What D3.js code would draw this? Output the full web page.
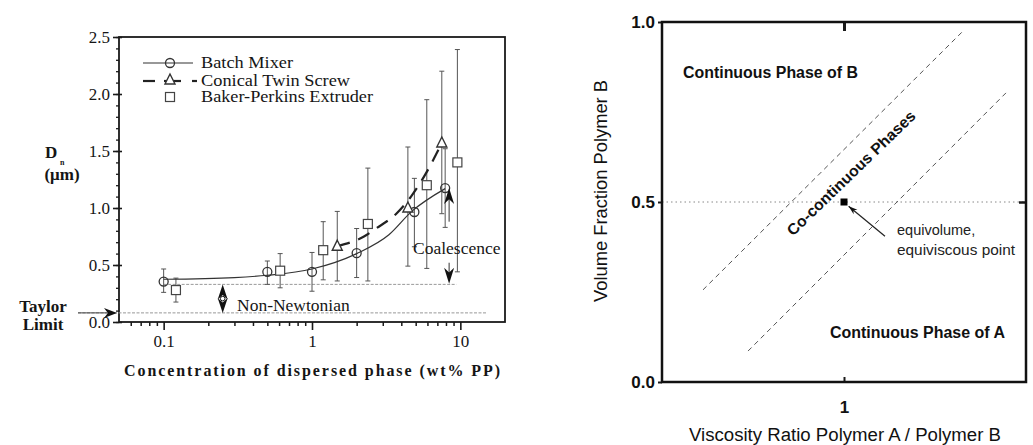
<!DOCTYPE html>
<html>
<head>
<meta charset="utf-8">
<script src="https://cdn.jsdelivr.net/npm/d3@7"></script>
<style>
  body { margin: 0; background: #fff; }
  svg { display: block; }
</style>
</head>
<body>
<svg></svg>
<script>
// ---- left panel data: Dn vs concentration ----
var concBatch = [0.1, 0.5, 1.0, 2.0, 4.9, 7.9];
var dBatch    = [0.355, 0.44, 0.44, 0.605, 0.965, 1.175];
var loBatch   = [0.26, 0.33, 0.27, 0.39, 0.66, 0.83];
var hiBatch   = [0.465, 0.535, 0.61, 0.82, 1.26, 1.52];

var concTwin = [1.48, 4.43, 7.5];
var dTwin    = [0.665, 1.0, 1.57];
var loTwin   = [0.36, 0.49, 0.95];
var hiTwin   = [0.97, 1.535, 2.2];

var concBaker = [0.121, 0.61, 1.19, 2.38, 5.94, 9.55];
var dBaker    = [0.28, 0.45, 0.63, 0.86, 1.2, 1.4];
var loBaker   = [0.175, 0.30, 0.37, 0.36, 0.47, 0.44];
var hiBaker   = [0.385, 0.60, 0.88, 1.35, 1.95, 2.39];

// fitted curves
var batchFitX = [0.1, 0.3, 0.5, 1, 2, 3.3, 4.7, 7.9];
var batchFitY = [0.375, 0.39, 0.41, 0.465, 0.6, 0.765, 0.97, 1.17];
var twinFitX  = [1.48, 2.24, 2.7, 3.7, 4.65, 5.9, 7.5];
var twinFitY  = [0.665, 0.75, 0.82, 0.95, 1.1, 1.31, 1.57];

var taylorLimit = 0.08;
var newtonLevel = 0.33;
var xTicksLeft = [0.1, 1, 10];
var yTicksLeft = [0, 0.5, 1.0, 1.5, 2.0, 2.5];
var legendNames = ['Batch Mixer', 'Conical Twin Screw', 'Baker-Perkins Extruder'];

// ---- right panel data: phase diagram ----
var upperLineX = [0.168, 4.45];
var upperLineY = [0.256, 0.972];
var lowerLineX = [0.297, 7.76];
var lowerLineY = [0.086, 0.803];
var equiPoint = [1, 0.5];
var xTicksRight = [1];
var yTicksRight = [0, 0.5, 1.0];

var svg = d3.select('svg')
    .attr('width', 1033)
    .attr('height', 445);

var serif = '"Liberation Serif", "Times New Roman", serif';
var sans = '"Liberation Sans", Arial, sans-serif';
var ink = '#1a1a1a';
var txt = '#151515';

// arrowhead with a notched back, tip at (tx,ty), pointing along angle (radians)
function arrowHead(tx, ty, ang, len, wid) {
  var c = Math.cos(ang), s = Math.sin(ang);
  function p(a, b) { return [tx - a * c + b * s, ty - a * s - b * c]; }
  var pts = [p(0, 0), p(len, wid), p(len * 0.7, 0), p(len, -wid)];
  return 'M' + pts.map(function(q) { return q.join(','); }).join('L') + 'Z';
}

// ===================== LEFT PANEL =====================
var x1 = d3.scaleLog().domain([0.05, 20]).range([119, 505]);
var y1 = d3.scaleLinear().domain([0, 2.5]).range([322, 37]);

var L = svg.append('g');

// minor y ticks
L.append('g')
    .attr('transform', 'translate(119,0)')
    .call(d3.axisLeft(y1).tickValues(d3.range(0, 25.1, 1).map(function(d) { return d / 10; }))
      .tickSize(3).tickSizeOuter(0).tickFormat(''))
    .call(function(g) { g.select('.domain').remove(); g.selectAll('line').attr('stroke', ink).attr('stroke-width', 1.3); });

// major y ticks + labels
L.append('g')
    .attr('transform', 'translate(119,0)')
    .call(d3.axisLeft(y1).tickValues(yTicksLeft).tickSize(6).tickSizeOuter(0).tickPadding(3)
      .tickFormat(d3.format('.1f')))
    .call(function(g) {
      g.select('.domain').remove();
      g.selectAll('line').attr('x2', -6).attr('x1', 3).attr('stroke', ink).attr('stroke-width', 1.6);
      g.selectAll('text').attr('font-family', serif).attr('font-size', 17).attr('fill', txt);
    });

// minor x ticks (log)
var minorX = [];
[0.01, 0.1, 1, 10].forEach(function(dec) {
  for (var k = 2; k <= 9; k++) {
    var v = dec * k;
    if (v > 0.05 && v < 20) minorX.push(v);
  }
});
L.append('g')
    .attr('transform', 'translate(0,322)')
    .call(d3.axisBottom(x1).tickValues(minorX).tickSize(4).tickSizeOuter(0).tickFormat(''))
    .call(function(g) { g.select('.domain').remove(); g.selectAll('line').attr('stroke', ink).attr('stroke-width', 1.5); });

L.append('g')
    .attr('transform', 'translate(0,322)')
    .call(d3.axisBottom(x1).tickValues(xTicksLeft).tickSize(8).tickSizeOuter(0).tickPadding(5)
      .tickFormat(function(d) { return String(d); }))
    .call(function(g) {
      g.select('.domain').remove();
      g.selectAll('line').attr('stroke', ink).attr('stroke-width', 1.6);
      g.selectAll('text').attr('font-family', serif).attr('font-size', 17).attr('fill', txt);
    });

// frame
L.append('rect')
    .attr('x', x1(0.05)).attr('y', y1(2.5))
    .attr('width', x1(20) - x1(0.05)).attr('height', y1(0) - y1(2.5))
    .attr('fill', 'none').attr('stroke', ink).attr('stroke-width', 1.8);

// reference dotted lines
L.append('line')
    .attr('x1', 78).attr('x2', x1(15))
    .attr('y1', y1(taylorLimit)).attr('y2', y1(taylorLimit))
    .attr('stroke', '#999').attr('stroke-width', 1).attr('stroke-dasharray', '3,1.5');
L.append('line')
    .attr('x1', x1(0.1)).attr('x2', x1(9.4))
    .attr('y1', y1(newtonLevel)).attr('y2', y1(newtonLevel))
    .attr('stroke', '#999').attr('stroke-width', 1).attr('stroke-dasharray', '3,1.5');

// error bars
function errorBars(xs, lo, hi) {
  var g = L.append('g').attr('stroke', '#555').attr('stroke-width', 1);
  xs.forEach(function(c, i) {
    var px = x1(c);
    g.append('line').attr('x1', px).attr('x2', px).attr('y1', y1(lo[i])).attr('y2', y1(hi[i]));
    g.append('line').attr('x1', px - 2.5).attr('x2', px + 2.5).attr('y1', y1(lo[i])).attr('y2', y1(lo[i]));
    g.append('line').attr('x1', px - 2.5).attr('x2', px + 2.5).attr('y1', y1(hi[i])).attr('y2', y1(hi[i]));
  });
}
errorBars(concBatch, loBatch, hiBatch);
errorBars(concTwin, loTwin, hiTwin);
errorBars(concBaker, loBaker, hiBaker);

// fitted curves
var fitLine = d3.line()
    .x(function(d) { return x1(d[0]); })
    .y(function(d) { return y1(d[1]); })
    .curve(d3.curveMonotoneX);

L.append('path')
    .datum(d3.zip(batchFitX, batchFitY))
    .attr('d', fitLine)
    .attr('fill', 'none').attr('stroke', '#333').attr('stroke-width', 1.2);

L.append('path')
    .datum(d3.zip(twinFitX, twinFitY))
    .attr('d', fitLine)
    .attr('fill', 'none').attr('stroke', '#222').attr('stroke-width', 2.2)
    .attr('stroke-dasharray', '13,9');

// markers
var sym = {
  circle: function(g, px, py) {
    g.append('circle').attr('cx', px).attr('cy', py).attr('r', 4.5)
      .attr('fill', 'none').attr('stroke', '#333').attr('stroke-width', 1.3);
  },
  triangle: function(g, px, py) {
    g.append('path')
      .attr('d', 'M' + px + ',' + (py - 6) + 'L' + (px + 5) + ',' + (py + 4) + 'L' + (px - 5) + ',' + (py + 4) + 'Z')
      .attr('fill', '#fff').attr('stroke', '#333').attr('stroke-width', 1.4);
  },
  square: function(g, px, py) {
    g.append('rect').attr('x', px - 4.5).attr('y', py - 4.5).attr('width', 9).attr('height', 9)
      .attr('fill', '#fff').attr('stroke', '#444').attr('stroke-width', 1.2);
  }
};
var mk = L.append('g');
concBatch.forEach(function(c, i) { sym.circle(mk, x1(c), y1(dBatch[i])); });
concTwin.forEach(function(c, i) { sym.triangle(mk, x1(c), y1(dTwin[i])); });
concBaker.forEach(function(c, i) { sym.square(mk, x1(c), y1(dBaker[i])); });

// legend
var lg = L.append('g');
lg.append('line').attr('x1', 143).attr('x2', 193).attr('y1', 63).attr('y2', 63).attr('stroke', '#333').attr('stroke-width', 1.2);
sym.circle(lg, 170, 63);
lg.append('line').attr('x1', 143).attr('x2', 155).attr('y1', 81).attr('y2', 81).attr('stroke', '#222').attr('stroke-width', 2.2);
lg.append('line').attr('x1', 164).attr('x2', 181).attr('y1', 81).attr('y2', 81).attr('stroke', '#222').attr('stroke-width', 2.2);
lg.append('line').attr('x1', 192).attr('x2', 197).attr('y1', 81).attr('y2', 81).attr('stroke', '#222').attr('stroke-width', 2.2);
sym.triangle(lg, 170, 80);
sym.square(lg, 170, 97);
var legW = [92, 149, 172];
lg.selectAll('text.leg')
    .data(legendNames)
    .enter().append('text')
    .attr('x', 201)
    .attr('y', function(d, i) { return [68, 86, 102][i]; })
    .attr('font-family', serif).attr('font-size', 16).attr('fill', txt)
    .attr('textLength', function(d, i) { return legW[i]; })
    .attr('lengthAdjust', 'spacingAndGlyphs')
    .text(function(d) { return d; });

// axis titles
L.append('text').attr('x', 45).attr('y', 158)
    .attr('font-family', serif).attr('font-weight', 'bold').attr('font-size', 17).attr('fill', txt).text('D');
L.append('text').attr('x', 60).attr('y', 165)
    .attr('font-family', serif).attr('font-weight', 'bold').attr('font-size', 8).attr('fill', txt).text('n');
L.append('text').attr('x', 62).attr('y', 180).attr('text-anchor', 'middle')
    .attr('font-family', serif).attr('font-weight', 'bold').attr('font-size', 17).attr('fill', txt).text('(μm)');
L.append('text').attr('x', 43).attr('y', 312).attr('text-anchor', 'middle')
    .attr('font-family', serif).attr('font-weight', 'bold').attr('font-size', 17).attr('fill', txt).text('Taylor');
L.append('text').attr('x', 43).attr('y', 330).attr('text-anchor', 'middle')
    .attr('font-family', serif).attr('font-weight', 'bold').attr('font-size', 17).attr('fill', txt).text('Limit');
L.append('text').attr('x', 312).attr('y', 376).attr('text-anchor', 'middle')
    .attr('font-family', serif).attr('font-weight', 'bold').attr('font-size', 16).attr('fill', txt)
    .attr('textLength', 376).attr('lengthAdjust', 'spacing')
    .text('Concentration of dispersed phase (wt% PP)');

// Taylor arrow
L.append('path').attr('d', arrowHead(117, y1(taylorLimit), 0, 13, 5)).attr('fill', '#111');
L.append('line').attr('x1', 78).attr('x2', 108).attr('y1', y1(taylorLimit)).attr('y2', y1(taylorLimit))
    .attr('stroke', '#444').attr('stroke-width', 1);

// Non-Newtonian double arrow
var nnx = x1(0.25);
L.append('path').attr('d', arrowHead(nnx, y1(newtonLevel), -Math.PI / 2, 15, 5)).attr('fill', '#111');
L.append('path').attr('d', arrowHead(nnx, y1(taylorLimit), Math.PI / 2, 15, 5)).attr('fill', '#111');
L.append('circle').attr('cx', nnx).attr('cy', (y1(newtonLevel) + y1(taylorLimit)) / 2).attr('r', 2.3)
    .attr('fill', '#fff').attr('stroke', '#111').attr('stroke-width', 1);
L.append('text').attr('x', 237).attr('y', 311)
    .attr('font-family', serif).attr('font-size', 17.5).attr('fill', txt).text('Non-Newtonian');

// Coalescence arrows
var cx = x1(8.4);
L.append('line').attr('x1', cx).attr('x2', cx).attr('y1', y1(0.88)).attr('y2', y1(1.1)).attr('stroke', '#333').attr('stroke-width', 1);
L.append('path').attr('d', arrowHead(cx, y1(1.175), -Math.PI / 2, 16, 5)).attr('fill', '#111');
L.append('line').attr('x1', cx).attr('x2', cx).attr('y1', y1(0.52)).attr('y2', y1(0.4)).attr('stroke', '#333').attr('stroke-width', 1);
L.append('path').attr('d', arrowHead(cx, y1(0.335), Math.PI / 2, 16, 5)).attr('fill', '#111');
L.append('text').attr('x', 413).attr('y', 254)
    .attr('font-family', serif).attr('font-size', 17.5).attr('fill', txt).text('Coalescence');

// ===================== RIGHT PANEL =====================
var x2 = d3.scaleLog().domain([0.1, 10]).range([662, 1026]);
var y2 = d3.scaleLinear().domain([0, 1]).range([382, 22]);
var R = svg.append('g');

R.append('line')
    .attr('x1', x2(0.1)).attr('x2', x2(10))
    .attr('y1', y2(0.5)).attr('y2', y2(0.5))
    .attr('stroke', '#888').attr('stroke-width', 1).attr('stroke-dasharray', '1.5,3');

var phaseLine = d3.line()
    .x(function(d) { return x2(d[0]); })
    .y(function(d) { return y2(d[1]); });
[[upperLineX, upperLineY], [lowerLineX, lowerLineY]].forEach(function(s) {
  R.append('path')
      .datum(d3.zip(s[0], s[1]))
      .attr('d', phaseLine)
      .attr('fill', 'none').attr('stroke', '#555').attr('stroke-width', 1)
      .attr('stroke-dasharray', '5,4');
});

R.append('g')
    .attr('transform', 'translate(662,0)')
    .call(d3.axisLeft(y2).tickValues(yTicksRight).tickSize(4).tickSizeOuter(0).tickPadding(3)
      .tickFormat(d3.format('.1f')))
    .call(function(g) {
      g.select('.domain').remove();
      g.selectAll('line').attr('stroke', ink).attr('stroke-width', 2);
      g.selectAll('text').attr('font-family', sans).attr('font-weight', 'bold').attr('font-size', 17).attr('fill', '#111');
    });
R.append('g')
    .attr('transform', 'translate(0,382)')
    .call(d3.axisBottom(x2).tickValues(xTicksRight).tickSize(-5).tickSizeOuter(0).tickPadding(19)
      .tickFormat(function(d) { return String(d); }))
    .call(function(g) {
      g.select('.domain').remove();
      g.selectAll('line').attr('stroke', ink).attr('stroke-width', 2);
      g.selectAll('text').attr('font-family', sans).attr('font-weight', 'bold').attr('font-size', 17).attr('fill', '#111');
    });
R.append('g')
    .attr('transform', 'translate(0,22)')
    .call(d3.axisTop(x2).tickValues(xTicksRight).tickSize(-9).tickSizeOuter(0).tickFormat(''))
    .call(function(g) { g.select('.domain').remove(); g.selectAll('line').attr('stroke', ink).attr('stroke-width', 3); });
R.append('g')
    .attr('transform', 'translate(1026,0)')
    .call(d3.axisRight(y2).tickValues([0.5]).tickSize(-7).tickSizeOuter(0).tickFormat(''))
    .call(function(g) { g.select('.domain').remove(); g.selectAll('line').attr('stroke', ink).attr('stroke-width', 2.5); });

R.append('rect')
    .attr('x', x2(0.1)).attr('y', y2(1))
    .attr('width', x2(10) - x2(0.1)).attr('height', y2(0) - y2(1))
    .attr('fill', 'none').attr('stroke', '#111').attr('stroke-width', 2.5);

// equivolume point + pointer
R.append('rect')
    .attr('x', x2(equiPoint[0]) - 3.5).attr('y', y2(equiPoint[1]) - 3.5)
    .attr('width', 7).attr('height', 7).attr('fill', '#000');
var ax0 = x2(1.68), ay0 = y2(0.405), ax1 = x2(1.06), ay1 = y2(0.488);
R.append('line').attr('x1', ax0).attr('y1', ay0).attr('x2', ax1).attr('y2', ay1)
    .attr('stroke', '#222').attr('stroke-width', 1.2);
R.append('path').attr('d', arrowHead(ax1, ay1, Math.atan2(ay1 - ay0, ax1 - ax0), 9, 3)).attr('fill', '#111');

R.append('text').attr('x', 897).attr('y', 235)
    .attr('font-family', sans).attr('font-size', 14.5).attr('fill', '#222').text('equivolume,');
R.append('text').attr('x', 897).attr('y', 255)
    .attr('font-family', sans).attr('font-size', 14.5).attr('fill', '#222')
    .attr('textLength', 118).attr('lengthAdjust', 'spacingAndGlyphs').text('equiviscous point');

R.append('text').attr('x', 683).attr('y', 78)
    .attr('font-family', sans).attr('font-weight', 'bold').attr('font-size', 16).attr('fill', '#111')
    .attr('textLength', 175).attr('lengthAdjust', 'spacingAndGlyphs').text('Continuous Phase of B');
R.append('text').attr('x', 830).attr('y', 338)
    .attr('font-family', sans).attr('font-weight', 'bold').attr('font-size', 16).attr('fill', '#111')
    .attr('textLength', 175).attr('lengthAdjust', 'spacingAndGlyphs').text('Continuous Phase of A');
R.append('text')
    .attr('transform', 'translate(851,173) rotate(-44)')
    .attr('text-anchor', 'middle').attr('dy', '0.35em')
    .attr('font-family', sans).attr('font-weight', 'bold').attr('font-size', 15.5).attr('fill', '#111')
    .attr('textLength', 172).attr('lengthAdjust', 'spacingAndGlyphs').text('Co-continuous Phases');

R.append('text').attr('x', 845).attr('y', 441).attr('text-anchor', 'middle')
    .attr('font-family', sans).attr('font-size', 18).attr('fill', '#111')
    .attr('textLength', 312).attr('lengthAdjust', 'spacingAndGlyphs').text('Viscosity Ratio Polymer A / Polymer B');
R.append('text')
    .attr('transform', 'translate(607,191) rotate(-90)')
    .attr('text-anchor', 'middle')
    .attr('font-family', sans).attr('font-size', 18).attr('fill', '#111')
    .attr('textLength', 222).attr('lengthAdjust', 'spacingAndGlyphs').text('Volume Fraction Polymer B');
</script>
</body>
</html>
